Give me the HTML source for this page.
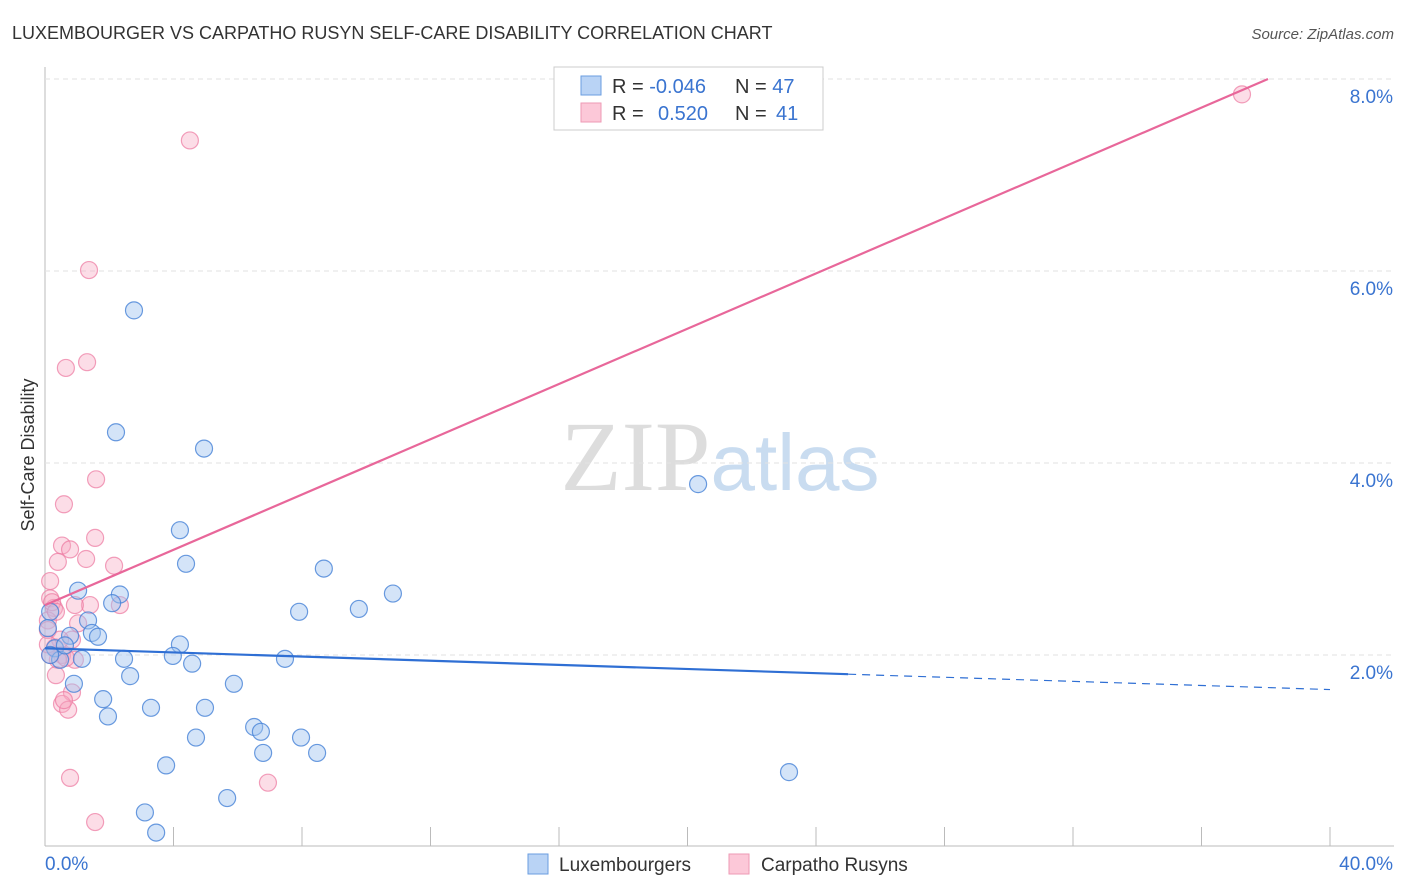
<!DOCTYPE html>
<html><head><meta charset="utf-8"><style>
body{margin:0;background:#fff;font-family:"Liberation Sans",sans-serif}
svg{display:block}
</style></head><body>
<svg id="c" width="1406" height="892" xmlns="http://www.w3.org/2000/svg">
<text x="12" y="39" font-size="18" fill="#333">LUXEMBOURGER VS CARPATHO RUSYN SELF-CARE DISABILITY CORRELATION CHART</text>
<text x="1394" y="39" font-size="15" fill="#555" font-style="italic" text-anchor="end">Source: ZipAtlas.com</text>
<text x="34" y="455" font-size="18" fill="#333" transform="rotate(-90 34 455)" text-anchor="middle">Self-Care Disability</text>
<text x="720" y="490" font-size="100" fill="#ddd" text-anchor="middle" font-family="Liberation Serif">ZIP<tspan fill="#c9dcf0" font-family="Liberation Sans" font-size="80">atlas</tspan></text>
<g id="grid"></g><g id="marks"></g>
<g>
<rect x="554" y="67" width="269" height="63" fill="#fff" stroke="#ccc"/>
<rect x="581" y="76" width="20" height="19" fill="#b9d3f5" stroke="#6a9ee0"/>
<rect x="581" y="103" width="20" height="19" fill="#fcc8d8" stroke="#ee9ab5"/>
<text x="612" y="93" font-size="20" fill="#333">R = <tspan fill="#3a74d0">-0.046</tspan>  <tspan x="735">N = </tspan><tspan fill="#3a74d0">47</tspan></text>
<text x="612" y="120" font-size="20" fill="#333">R = <tspan x="658" fill="#3a74d0">0.520</tspan><tspan x="735">N = </tspan><tspan x="776" fill="#3a74d0">41</tspan></text>
</g>
<g>
<rect x="528" y="854" width="20" height="20" fill="#b9d3f5" stroke="#6a9ee0"/>
<text x="559" y="871" font-size="19" fill="#333">Luxembourgers</text>
<rect x="729" y="854" width="20" height="20" fill="#fcc8d8" stroke="#ee9ab5"/>
<text x="761" y="871" font-size="19" fill="#333">Carpatho Rusyns</text>
</g>
</svg>
<script>
const xTicksPct=[0,40];
const yTicks=[2,4,6,8];
const bx=[2.77,2.21,4.95,20.33,4.20,4.39,8.68,10.83,2.33,1.03,2.09,7.91,9.77,1.34,1.46,1.65,0.78,4.20,3.98,4.58,2.46,1.15,7.47,2.65,5.88,0.90,1.81,4.98,3.30,1.96,6.51,6.72,4.70,7.97,6.79,8.47,3.77,23.16,5.67,3.11,3.46,0.16,0.31,0.47,0.09,0.62,0.16];
const by=[5.59,4.32,4.15,3.78,3.30,2.95,2.90,2.64,2.63,2.67,2.54,2.45,2.48,2.36,2.23,2.19,2.20,2.11,1.99,1.91,1.96,1.96,1.96,1.78,1.70,1.70,1.54,1.45,1.45,1.36,1.25,1.20,1.14,1.14,0.98,0.98,0.85,0.78,0.51,0.36,0.15,2.45,2.07,1.95,2.28,2.10,2.00];
const px=[4.51,1.37,1.31,0.65,1.59,0.59,1.56,0.53,0.78,0.40,1.28,2.15,0.16,0.16,0.28,1.40,2.33,0.93,0.09,1.03,0.84,0.31,0.53,0.40,0.93,0.16,0.09,0.34,0.84,0.53,0.72,0.78,6.94,1.56,37.26,0.22,0.47,0.65,0.09,0.34,0.59];
const py=[7.36,6.01,5.05,4.99,3.83,3.57,3.22,3.14,3.10,2.97,3.00,2.93,2.77,2.59,2.49,2.52,2.52,2.52,2.36,2.33,2.16,2.08,2.00,1.95,1.95,2.00,2.26,1.79,1.61,1.49,1.43,0.72,0.67,0.26,7.84,2.55,2.16,1.97,2.11,2.45,1.53];
const blueLine=[2.07,1.80,1.64]; // at x=0, 25, 40
const pinkLine=[2.52,8.0]; // at x=0, 38.07
const X=v=>45+v*32.125, Y=v=>847-v*96;
const NS="http://www.w3.org/2000/svg";
function mk(t,a,p){const e=document.createElementNS(NS,t);for(const k in a)e.setAttribute(k,a[k]);p.appendChild(e);return e;}
const g=document.getElementById('grid'), m=document.getElementById('marks');
mk('line',{x1:45,y1:67,x2:45,y2:846,stroke:'#bbb'},g);
mk('line',{x1:45,y1:846,x2:1394,y2:846,stroke:'#bbb'},g);
for(let i=1;i<=10;i++){const l=mk('line',{x1:45+i*128.5,y1:827,x2:45+i*128.5,y2:846,stroke:'#bbb'},g);

}
yTicks.forEach(v=>{const l=mk('line',{x1:45,y1:Y(v),x2:1394,y2:Y(v),stroke:'#e2e2e2','stroke-dasharray':'5,4'},g);


const t=mk('text',{x:1393,y:Y(v)+24,'font-size':19,fill:'#3a74d0','text-anchor':'end'},g);t.textContent=v.toFixed(1)+'%';

});
xTicksPct.forEach((v,i)=>{const t=mk('text',{x:i?1393:45,y:870,'font-size':19,fill:'#3a74d0','text-anchor':i?'end':'start'},g);t.textContent=v.toFixed(1)+'%';

});
px.forEach((v,i)=>{const c=mk('circle',{cx:X(v),cy:Y(py[i]),r:8.5,fill:'rgba(248,170,195,0.4)',stroke:'rgba(236,120,160,0.7)','stroke-width':1.2},m);

});
bx.forEach((v,i)=>{const c=mk('circle',{cx:X(v),cy:Y(by[i]),r:8.5,fill:'rgba(160,196,240,0.45)',stroke:'rgba(70,130,215,0.8)','stroke-width':1.2},m);

});
let l=mk('line',{x1:X(0),y1:Y(pinkLine[0]),x2:X(38.07),y2:Y(pinkLine[1]),stroke:'#e8679a','stroke-width':2.2},m);


l=mk('line',{x1:X(0),y1:Y(blueLine[0]),x2:X(25),y2:Y(blueLine[1]),stroke:'#2f6fd4','stroke-width':2.2},m);


l=mk('line',{x1:X(25),y1:Y(blueLine[1]),x2:X(40),y2:Y(blueLine[2]),stroke:'#2f6fd4','stroke-width':1.2,'stroke-dasharray':'8,6'},m);


</script>
</body></html>
